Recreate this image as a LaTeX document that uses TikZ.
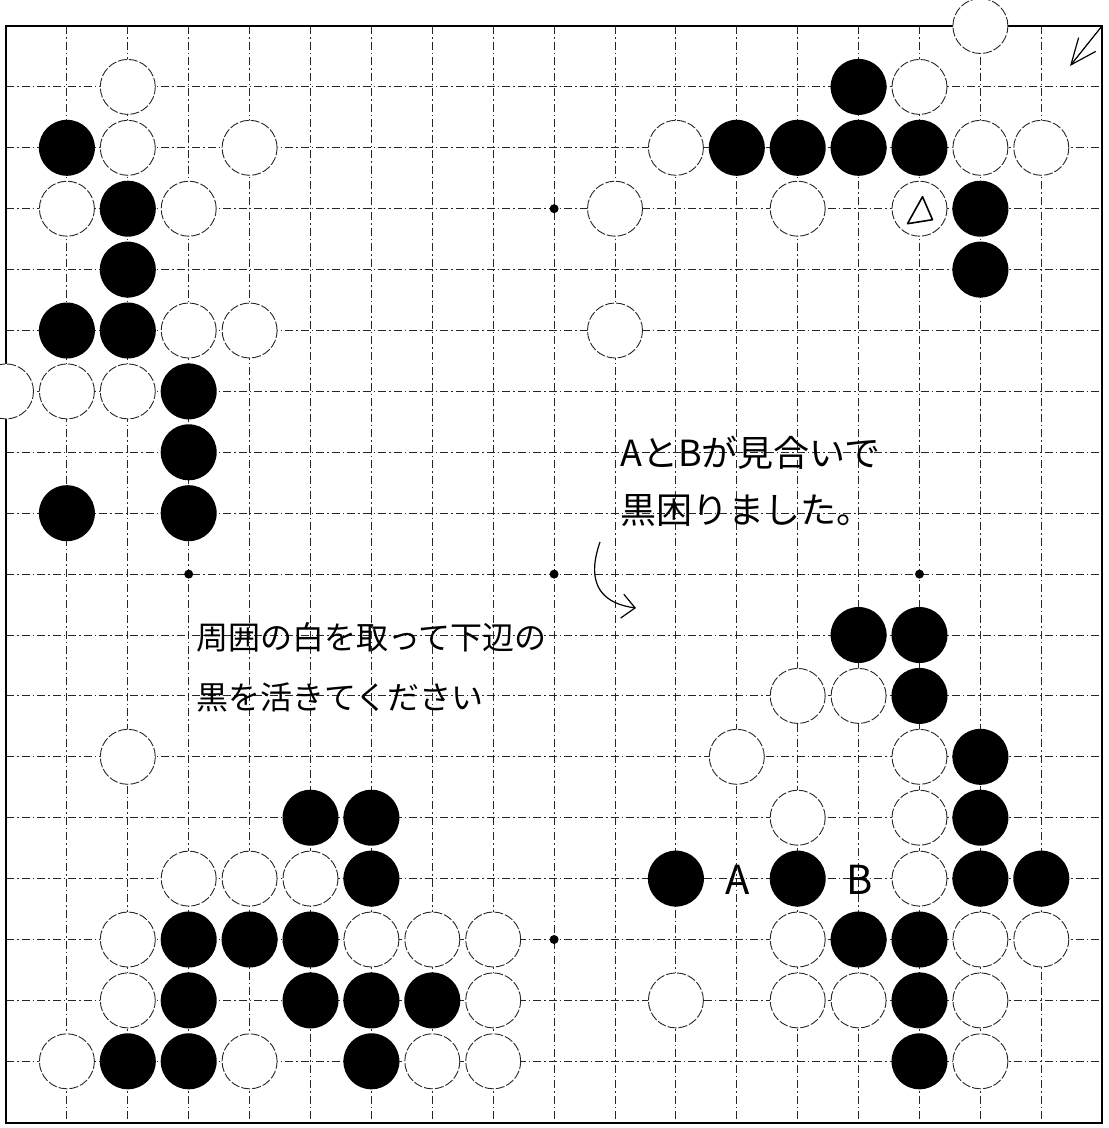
\documentclass[tikz,border=0pt]{standalone}
\usepackage{fontspec}
\newfontfamily\jpfont{Noto Sans CJK JP}
\usetikzlibrary{arrows.meta}

\begin{document}
\begin{tikzpicture}[x=1pt, y=-1pt, >=Stealth,
        gridline/.style={line width=0.9pt, black!85, dash pattern=on 8pt off 3pt on 1.5pt off 3pt},
        boardedge/.style={line width=2.4pt},
        bstone/.style={circle, fill=black, minimum size=56pt, inner sep=0pt},
        wstone/.style={circle, draw=black!85, fill=white, line width=0.9pt, dash pattern=on 9pt off 2pt, minimum size=55pt, inner sep=0pt},
        hoshi/.style={circle, fill=black, minimum size=9pt, inner sep=0pt},
        letter/.style={font=\jpfont\fontsize{40}{40}\selectfont, inner sep=0pt},
        note/.style={align=left, anchor=west, inner sep=0pt}]

    \useasboundingbox (0,0) rectangle (1109,1128);

    % grid
    \foreach \i in {2,...,18} {
        \draw[gridline] ({6+60.9*(\i-1)},26) -- ({6+60.9*(\i-1)},1123);
        \draw[gridline] (6,{26+60.9*(\i-1)}) -- (1102,{26+60.9*(\i-1)});
    }
    \draw[boardedge] (6,26) rectangle (1102,1123);

    \foreach \c/\r in {4/10, 10/4, 10/10, 10/16, 16/10}
        \node[hoshi] (s-\c-\r) at ({6+60.9*(\c-1)},{26+60.9*(\r-1)}) {};

    % black stones
    \foreach \c/\r in {2/3, 3/4, 3/5, 2/6, 3/6, 4/7, 4/8, 2/9, 4/9,
            15/2, 13/3, 14/3, 15/3, 16/3, 17/4, 17/5,
            15/11, 16/11, 16/12, 17/13, 17/14, 12/15, 14/15, 17/15, 18/15,
            15/16, 16/16, 16/17, 16/18,
            6/14, 7/14, 7/15, 4/16, 5/16, 6/16, 4/17, 6/17, 7/17, 8/17,
            3/18, 4/18, 7/18}
        \node[bstone] (b-\c-\r) at ({6+60.9*(\c-1)},{26+60.9*(\r-1)}) {};

    % white stones
    \foreach \c/\r in {3/2, 3/3, 5/3, 2/4, 4/4, 4/6, 5/6, 1/7, 2/7, 3/7,
            17/1, 16/2, 12/3, 17/3, 18/3, 11/4, 14/4, 16/4, 11/6,
            14/12, 15/12, 13/13, 16/13, 14/14, 16/14, 16/15,
            14/16, 17/16, 18/16, 12/17, 14/17, 15/17, 17/17, 17/18,
            3/13, 4/15, 5/15, 6/15, 3/16, 7/16, 8/16, 9/16, 3/17, 9/17,
            2/18, 5/18, 8/18, 9/18}
        \node[wstone] (w-\c-\r) at ({6+60.9*(\c-1)},{26+60.9*(\r-1)}) {};

    % marks
    \draw[line width=1.6pt, line join=round] ([shift={(-12,15)}]w-16-4.center) -- ([shift={(13,11)}]w-16-4.center) -- ([shift={(3,-12)}]w-16-4.center) -- cycle;
    \node[letter] (pt-a) at (738,880) {A};
    \node[letter] (pt-b) at (860,880) {B};

    \node[note, font=\jpfont\fontsize{36}{57}\selectfont] (note-ab) at (620,481) {AとBが見合いで\\黒困りました。};
    \node[note, font=\jpfont\fontsize{32}{60}\selectfont] (note-task) at (196,667) {周囲の白を取って下辺の\\黒を活きてください};

    \coordinate (turn-from) at (600,542);
    \coordinate (turn-to) at (636,608);
    \draw[line width=1.2pt, -{Straight Barb[length=13pt, width=24pt]}] (turn-from) .. controls (584,588) and (606,604) .. (turn-to);

    \coordinate (corner) at (1102,26);
    \coordinate (corner-tip) at (1070,66);
    \draw[line width=1.2pt, -{Straight Barb[length=26pt, width=22pt]}] (corner) -- (corner-tip);
\end{tikzpicture}
\end{document}
